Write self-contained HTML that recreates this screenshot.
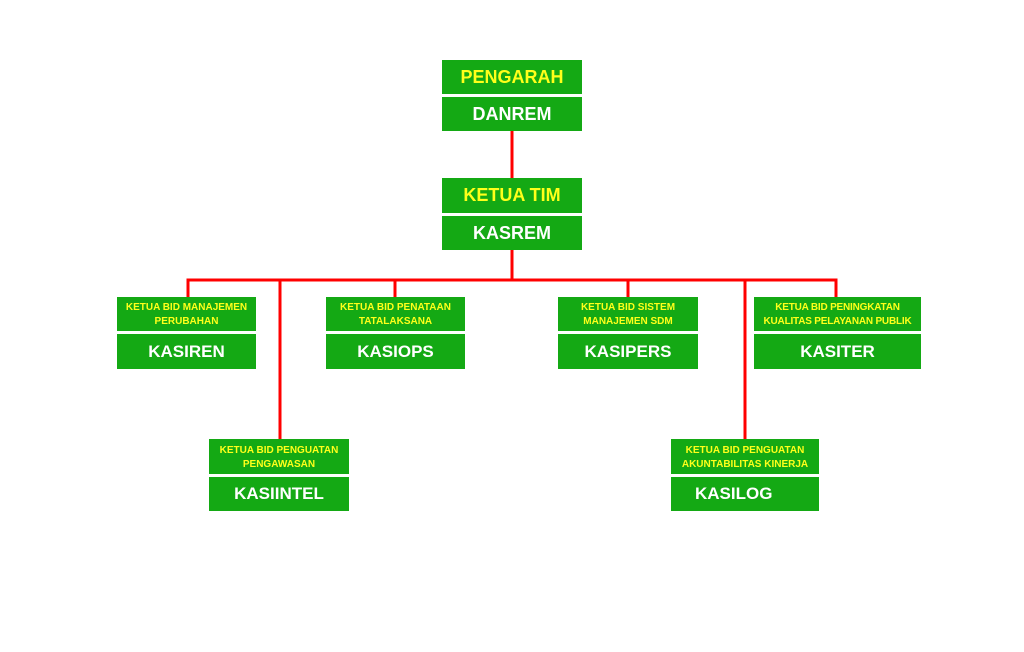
<!DOCTYPE html>
<html>
<head>
<meta charset="utf-8">
<style>
  html,body{margin:0;padding:0;background:#fff;}
  body{width:1024px;height:652px;position:relative;overflow:hidden;font-family:"Liberation Sans",sans-serif;font-weight:bold;}
  .b{position:absolute;background:#14a914;display:flex;align-items:center;justify-content:center;text-align:center;box-sizing:border-box;}
  .y{color:#ffff1a;}
  .w{color:#fff;}
  .big{font-size:18px;}
  .mid{font-size:17px;}
  .sm{font-size:10px;line-height:14px;padding-top:2px;}
  svg{position:absolute;left:0;top:0;}
</style>
</head>
<body>
<svg width="1024" height="652">
  <g stroke="#ff0000" stroke-width="3" fill="none">
    <line x1="512" y1="131" x2="512" y2="178"/>
    <line x1="512" y1="250" x2="512" y2="280"/>
    <line x1="186.5" y1="280" x2="837.5" y2="280"/>
    <line x1="188" y1="280" x2="188" y2="297"/>
    <line x1="395" y1="280" x2="395" y2="297"/>
    <line x1="628" y1="280" x2="628" y2="297"/>
    <line x1="836" y1="280" x2="836" y2="297"/>
    <line x1="280" y1="280" x2="280" y2="439"/>
    <line x1="745" y1="280" x2="745" y2="439"/>
  </g>
</svg>

<div class="b y big" style="left:442px;top:60px;width:140px;height:34px;">PENGARAH</div>
<div class="b w big" style="left:442px;top:97px;width:140px;height:34px;">DANREM</div>

<div class="b y big" style="left:442px;top:178px;width:140px;height:35px;">KETUA TIM</div>
<div class="b w big" style="left:442px;top:216px;width:140px;height:34px;">KASREM</div>

<div class="b y sm" style="left:117px;top:297px;width:139px;height:34px;">KETUA BID MANAJEMEN<br>PERUBAHAN</div>
<div class="b w mid" style="left:117px;top:334px;width:139px;height:35px;">KASIREN</div>

<div class="b y sm" style="left:326px;top:297px;width:139px;height:34px;">KETUA BID PENATAAN<br>TATALAKSANA</div>
<div class="b w mid" style="left:326px;top:334px;width:139px;height:35px;">KASIOPS</div>

<div class="b y sm" style="left:558px;top:297px;width:140px;height:34px;">KETUA BID SISTEM<br>MANAJEMEN SDM</div>
<div class="b w mid" style="left:558px;top:334px;width:140px;height:35px;">KASIPERS</div>

<div class="b y sm" style="left:754px;top:297px;width:167px;height:34px;letter-spacing:-0.2px;">KETUA BID PENINGKATAN<br>KUALITAS PELAYANAN PUBLIK</div>
<div class="b w mid" style="left:754px;top:334px;width:167px;height:35px;">KASITER</div>

<div class="b y sm" style="left:209px;top:439px;width:140px;height:35px;">KETUA BID PENGUATAN<br>PENGAWASAN</div>
<div class="b w mid" style="left:209px;top:477px;width:140px;height:34px;">KASIINTEL</div>

<div class="b y sm" style="left:671px;top:439px;width:148px;height:35px;">KETUA BID PENGUATAN<br>AKUNTABILITAS KINERJA</div>
<div class="b w mid" style="left:671px;top:477px;width:148px;height:34px;justify-content:flex-start;padding-left:24px;">KASILOG</div>
</body>
</html>
